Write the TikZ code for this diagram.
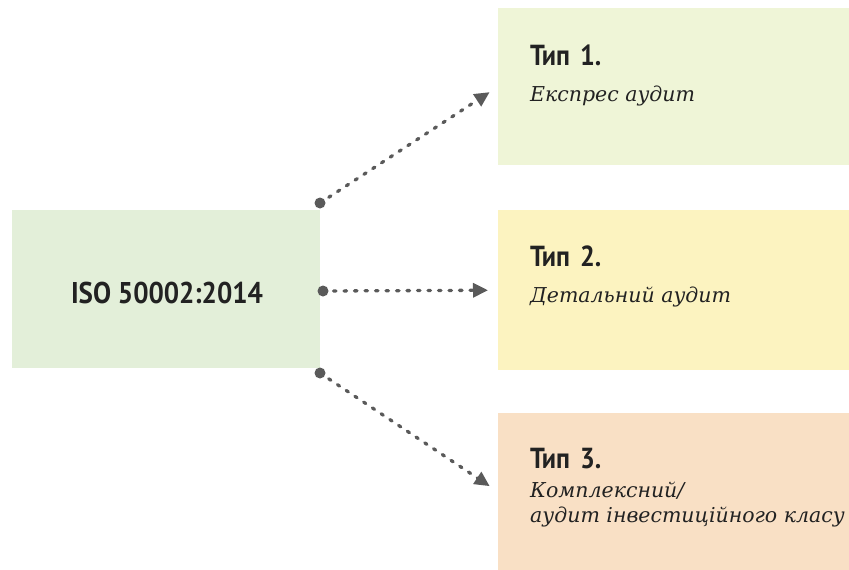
\documentclass[tikz,border=0pt]{standalone}
\usepackage{fontspec}
\usetikzlibrary{arrows.meta}
\newfontfamily\headfont[FakeStretch=0.9]{PT Sans}
\newfontfamily\descfont{DejaVu Serif}
\definecolor{isogreen}{HTML}{E3EFD9}
\definecolor{typeonebg}{HTML}{EFF5D7}
\definecolor{typetwobg}{HTML}{FCF3C0}
\definecolor{typethreebg}{HTML}{F9E0C5}
\definecolor{linkgrey}{HTML}{5A5A5A}
\definecolor{inkdark}{HTML}{222222}
\begin{document}
\begin{tikzpicture}[x=1pt,y=-1pt,
  panel/.style={draw=none,inner sep=0pt,anchor=north west},
  headtxt/.style={anchor=base west,inner sep=0pt,text=inkdark,font=\headfont\bfseries\fontsize{29}{32}\selectfont},
  desctxt/.style={anchor=base west,inner sep=0pt,text=inkdark,align=left,font=\descfont\itshape\fontsize{20.5}{25}\selectfont},
  link/.style={draw=linkgrey,line width=3.3pt,line cap=round,dash pattern=on 2.5pt off 8pt,shorten >=10pt,
    -{Triangle[length=15pt,width=14pt,line cap=butt]}},
  startdot/.style={circle,fill=linkgrey,inner sep=0pt,minimum size=11pt}]
\useasboundingbox (0,0) rectangle (849,570);
% boxes
\node[panel,fill=isogreen,minimum width=308pt,minimum height=158pt] (iso) at (12,210) {};
\node[panel,fill=typeonebg,minimum width=351pt,minimum height=157pt] (b1) at (498,8) {};
\node[panel,fill=typetwobg,minimum width=351pt,minimum height=160pt] (b2) at (498,210) {};
\node[panel,fill=typethreebg,minimum width=351pt,minimum height=157pt] (b3) at (498,413) {};
% texts
\node[anchor=base,inner sep=0pt,text=inkdark,font=\headfont\bfseries\fontsize{30}{34}\selectfont] (isotxt) at (167,303) {ISO 50002:2014};
\node[headtxt] (h1) at (530,65) {Тип\hspace{0.12em} 1.};
\node[desctxt] (d1) at (530,101) {Експрес аудит};
\node[headtxt] (h2) at (530,266) {Тип\hspace{0.12em} 2.};
\node[desctxt] (d2) at (530,302) {Детальний аудит};
\node[headtxt] (h3) at (530,468) {Тип\hspace{0.12em} 3.};
\node[desctxt] (d3a) at (530,497) {Комплексний/};
\node[desctxt] (d3b) at (530,522) {аудит інвестиційного класу};
% connector start points
\node[startdot] (s1) at (320,203) {};
\node[startdot] (s2) at (323,291) {};
\node[startdot] (s3) at (320,373) {};
\draw[link] (s1.center) -- (b1.west);
\draw[link] (s2.center) -- (b2.west);
\draw[link] (s3.center) -- (b3.west);
\end{tikzpicture}
\end{document}
